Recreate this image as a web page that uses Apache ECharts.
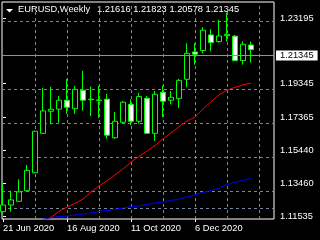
<!DOCTYPE html>
<html><head><meta charset="utf-8">
<script src="https://cdn.jsdelivr.net/npm/echarts@6/dist/echarts.min.js"></script>
<style>html,body{margin:0;padding:0;background:#000;}#c{width:320px;height:240px;}</style>
</head><body><div id="c"></div>
<script>
const symbolTitle = 'EURUSD,Weekly';
const weeks = ['2020-06-21','2020-06-28','2020-07-05','2020-07-12','2020-07-19','2020-07-26','2020-08-02','2020-08-09',
  '2020-08-16','2020-08-23','2020-08-30','2020-09-06','2020-09-13','2020-09-20','2020-09-27','2020-10-04',
  '2020-10-11','2020-10-18','2020-10-25','2020-11-01','2020-11-08','2020-11-15','2020-11-22','2020-11-29',
  '2020-12-06','2020-12-13','2020-12-20','2020-12-27','2021-01-03','2021-01-10','2021-01-17','2021-01-24'];
const opens  = [1.1181,1.1220,1.1242,1.1304,1.1410,1.1642,1.1772,1.1784,1.1837,1.1787,1.1896,1.1840,1.1838,1.1843,1.1616,1.1707,
  1.1813,1.1713,1.1848,1.1642,1.1884,1.1837,1.1846,1.1960,1.2121,1.2129,1.2221,1.2182,1.2217,1.2214,1.2070,1.21616];
const highs  = [1.1349,1.1304,1.1371,1.1456,1.1656,1.1909,1.1915,1.1862,1.1962,1.1921,1.2009,1.1917,1.1921,1.1874,1.1768,1.1831,
  1.1843,1.1881,1.1862,1.1891,1.1923,1.1891,1.1962,1.2172,1.2172,1.2267,1.2255,1.2310,1.2351,1.2221,1.2184,1.21823];
const lows   = [1.1168,1.1181,1.1238,1.1298,1.1407,1.1638,1.1695,1.1705,1.1756,1.1756,1.1775,1.1744,1.1732,1.1610,1.1610,1.1701,
  1.1689,1.1699,1.1638,1.1597,1.1737,1.1813,1.1790,1.1913,1.2045,1.2113,1.2125,1.2176,1.2182,1.2066,1.2046,1.20578];
const closes = [1.1220,1.1250,1.1297,1.1424,1.1654,1.1774,1.1784,1.1837,1.1795,1.1901,1.1837,1.1843,1.1836,1.1631,1.1713,1.1825,
  1.1713,1.1858,1.1642,1.1872,1.1831,1.1854,1.1954,1.2113,1.2108,1.2249,1.2176,1.2215,1.2225,1.2070,1.2166,1.21345];
const redMA  = [null,null,null,null,null,1.1120,1.1149,1.1182,1.1208,1.1229,1.1255,1.1297,1.1332,1.1364,1.1397,1.1432,
  1.1473,1.1506,1.1538,1.1570,1.1609,1.1644,1.1681,1.1715,1.1737,1.1784,1.1828,1.1868,1.1897,1.1913,1.1927,1.1937];
const blueMA = [null,null,null,null,null,1.1135,1.1146,1.1152,1.1155,1.1161,1.1167,1.1173,1.1182,1.1188,1.1194,1.1202,
  1.1211,1.1214,1.1223,1.1232,1.1238,1.1247,1.1255,1.1267,1.1281,1.1294,1.1305,1.1320,1.1341,1.1354,1.1364,1.1377];
const yTicks = [1.23195,1.19345,1.17365,1.15440,1.13460,1.11535];
const xTickIdx = [0,8,16,24];
const xTickLabels = ['21 Jun 2020','16 Aug 2020','11 Oct 2020','6 Dec 2020'];
const vGridIdx = [4,8,12,16,20,24,28,32];

const FONT = '"Liberation Sans", Arial, sans-serif';
const FS = 9.3;
const n = closes.length;
const lastPrice = closes[n-1];
const headerVals = [opens[n-1], highs[n-1], lows[n-1], closes[n-1]].map(v => v.toFixed(5)).join(' ');

const chart = echarts.init(document.getElementById('c'), null, {renderer:'canvas'});
chart.setOption({
  animation: false,
  backgroundColor: '#000',
  grid: {left: 2, top: 2, right: 46, bottom: 21, show: true, borderColor: '#fff', borderWidth: 1, backgroundColor: 'transparent'},
  xAxis: {
    type: 'value', min: -0.125, max: 33.875,
    axisLine: {show: false}, splitLine: {show: false},
    axisTick: {show: true, customValues: xTickIdx, length: 3, lineStyle: {color: '#fff'}},
    axisLabel: {customValues: xTickIdx, formatter: v => xTickLabels[xTickIdx.indexOf(v)] || '',
      align: 'left', color: '#fff', margin: 5, fontFamily: FONT, fontSize: FS}
  },
  yAxis: {
    type: 'value', position: 'right', min: 1.11376, max: 1.24150, scale: true,
    axisLine: {show: false}, splitLine: {show: false},
    axisTick: {show: true, customValues: yTicks, length: 3, lineStyle: {color: '#fff'}},
    axisLabel: {customValues: yTicks, formatter: v => v.toFixed(5), color: '#fff', margin: 6, fontFamily: FONT, fontSize: FS}
  },
  graphic: [
    {type: 'polygon', shape: {points: [[6,9],[13,9],[9.5,12.5]]}, style: {fill: '#fff'}},
    {type: 'text', x: 18, y: 5, style: {text: symbolTitle, fill: '#fff', font: FS + 'px ' + FONT, verticalAlign: 'top'}},
    {type: 'text', x: 97, y: 5, style: {text: headerVals, fill: '#fff', font: FS + 'px ' + FONT, verticalAlign: 'top'}}
  ],
  series: [
    {
      type: 'line', data: [], z: 1,
      markLine: {
        silent: true, z: 1, symbol: ['none','none'], label: {show: false},
        lineStyle: {color: '#778899', type: [3,3], width: 1},
        data: [...yTicks.map(v => ({yAxis: v})), ...vGridIdx.map(v => ({xAxis: v}))]
      }
    },
    {
      name: 'EURUSD', type: 'candlestick', z: 2, barWidth: 5,
      encode: {x: 0, y: [1,2,3,4]},
      data: opens.map((o, i) => [i, o, closes[i], lows[i], highs[i]]),
      itemStyle: {color: '#000', color0: '#fff', borderColor: '#00ff00', borderColor0: '#00ff00', borderWidth: 1},
      markLine: {
        silent: true, z: 4, symbol: ['none','none'],
        lineStyle: {color: '#8495a6', type: 'solid', width: 1},
        label: {show: true, position: 'end', distance: 2, formatter: () => lastPrice.toFixed(5),
          color: '#000', backgroundColor: '#fff', padding: [1,4,0,4], fontFamily: FONT, fontSize: FS},
        data: [{yAxis: lastPrice}]
      }
    },
    {type: 'line', z: 3, symbol: 'none', data: redMA.map((v, i) => [i, v]), lineStyle: {color: '#ff0000', width: 1}},
    {type: 'line', z: 3, symbol: 'none', data: blueMA.map((v, i) => [i, v]), lineStyle: {color: '#0000ff', width: 1}}
  ]
});
</script>
</body></html>
